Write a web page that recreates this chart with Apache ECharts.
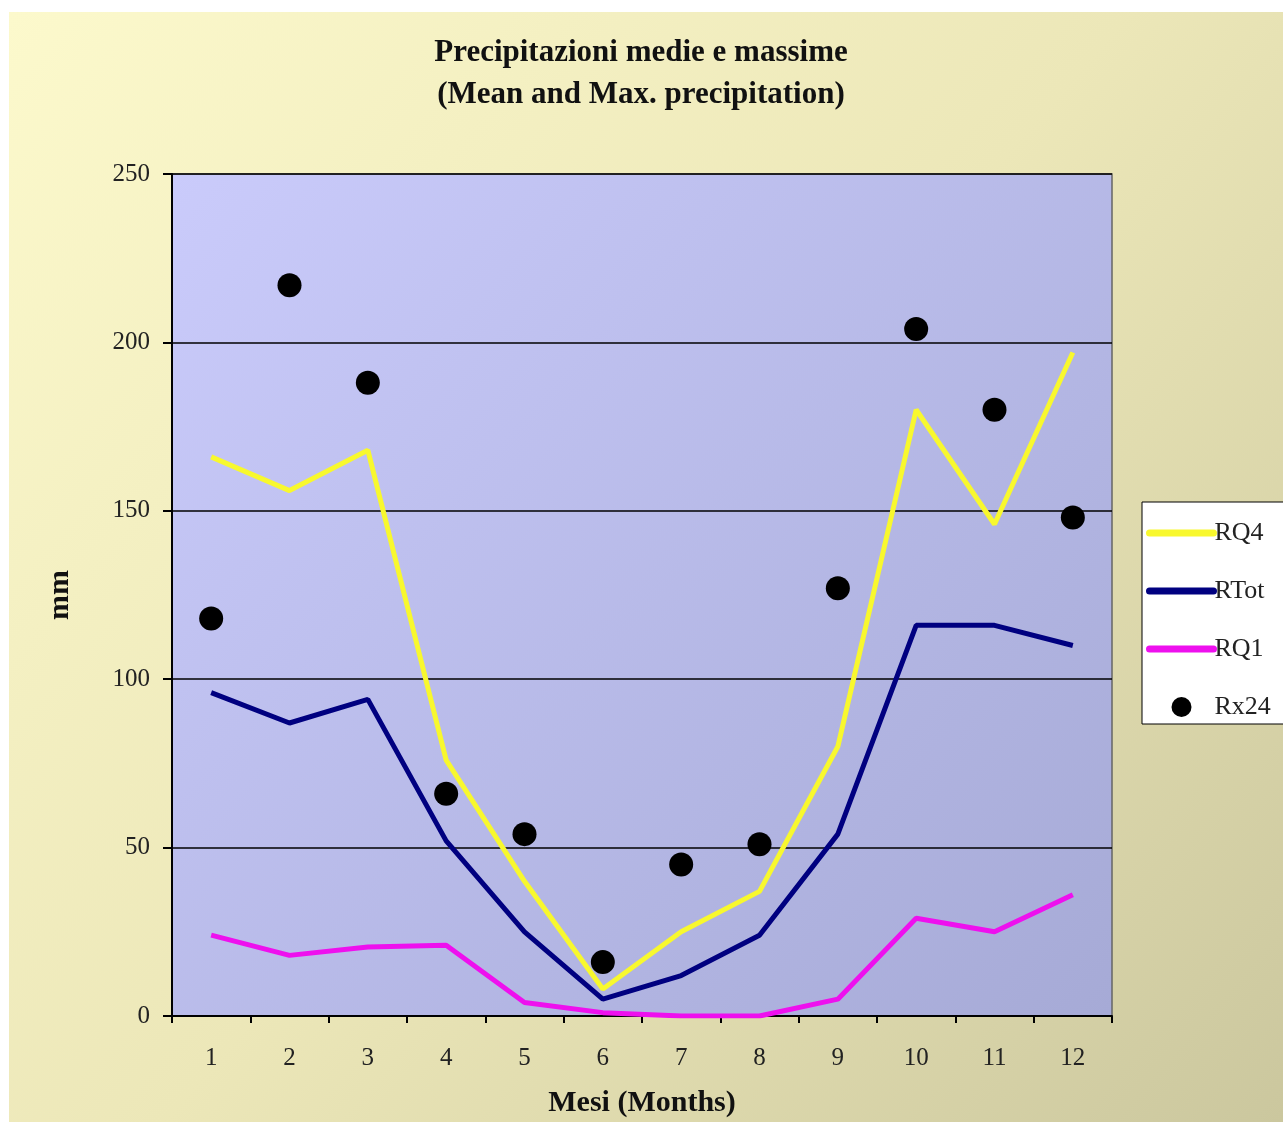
<!DOCTYPE html>
<html>
<head>
<meta charset="utf-8">
<script src="https://cdn.jsdelivr.net/npm/echarts@6/dist/echarts.min.js"></script>
<style>
html,body{margin:0;padding:0;background:#ffffff;overflow:hidden;}
#chart{position:absolute;left:9px;top:12px;width:1274px;height:1110px;}
</style>
</head>
<body>
<div id="chart"></div>
<script>
var months = ['1','2','3','4','5','6','7','8','9','10','11','12'];
var yTicks = [0, 50, 100, 150, 200, 250];
var RQ4  = [166, 156, 168, 76, 40, 8, 25, 37, 80, 180, 146, 197];
var RTot = [96, 87, 94, 52, 25, 5, 12, 24, 54, 116, 116, 110];
var RQ1  = [24, 18, 20.5, 21, 4, 1, 0, 0, 5, 29, 25, 36];
var Rx24 = [118, 217, 188, 66, 54, 16, 45, 51, 127, 204, 180, 148];

var serif = '"Liberation Serif", "DejaVu Serif", serif';
var chart = echarts.init(document.getElementById('chart'));
chart.setOption({
  animation: false,
  backgroundColor: {
    type: 'linear', x: 0, y: 0, x2: 1, y2: 1,
    colorStops: [
      {offset: 0, color: '#fcf9cc'},
      {offset: 0.5, color: '#ece7b8'},
      {offset: 1, color: '#cbc79e'}
    ]
  },
  title: {
    text: 'Precipitazioni medie e massime\n(Mean and Max. precipitation)',
    left: 627, top: 15, textAlign: 'center',
    textStyle: {fontFamily: serif, fontWeight: 'bold', fontSize: 31, lineHeight: 42, color: '#111'}
  },
  grid: {
    left: 163, top: 162, width: 940, height: 842,
    outerBoundsMode: 'none',
    containLabel: false,
    show: true,
    borderColor: '#666', borderWidth: 1.5,
    backgroundColor: {
      type: 'linear', x: 0, y: 0, x2: 1, y2: 1,
      colorStops: [
        {offset: 0, color: '#cacbfb'},
        {offset: 1, color: '#a6aad6'}
      ]
    }
  },
  legend: {
    orient: 'vertical',
    left: 1133, top: 490,
    backgroundColor: '#ffffff',
    borderColor: '#000', borderWidth: 1,
    padding: [18, 20, 4, 4],
    itemWidth: 64, itemHeight: 20, itemGap: 32,
    lineStyle: {width: 7, cap: 'round'},
    textStyle: {fontFamily: serif, fontSize: 26, color: '#222', padding: [0,0,0,-4]},
    data: [
      {name: 'RQ4', itemStyle: {opacity: 0}},
      {name: 'RTot', itemStyle: {opacity: 0}},
      {name: 'RQ1', itemStyle: {opacity: 0}},
      {name: 'Rx24'}
    ]
  },
  xAxis: {
    type: 'category', data: months, boundaryGap: true,
    name: 'Mesi (Months)', nameLocation: 'middle', nameGap: 72,
    nameTextStyle: {fontFamily: serif, fontWeight: 'bold', fontSize: 30, color: '#111'},
    axisLine: {lineStyle: {color: '#000', width: 2}},
    axisTick: {show: true, inside: false, length: 7, lineStyle: {color: '#000', width: 2}},
    axisLabel: {fontFamily: serif, fontSize: 25, color: '#222', margin: 30},
    splitLine: {show: false}
  },
  yAxis: {
    type: 'value', min: yTicks[0], max: yTicks[yTicks.length-1], interval: 50,
    name: 'mm', nameLocation: 'middle', nameGap: 97, nameRotate: 90,
    nameTextStyle: {fontFamily: serif, fontWeight: 'bold', fontSize: 30, color: '#111'},
    axisLine: {show: true, lineStyle: {color: '#000', width: 2}},
    axisTick: {show: true, inside: false, length: 9, lineStyle: {color: '#000', width: 2}},
    axisLabel: {fontFamily: serif, fontSize: 25, color: '#222', margin: 22},
    splitLine: {show: true, lineStyle: {color: '#000', width: 1.5}}
  },
  series: [
    {name: 'RQ4', type: 'line', data: RQ4, symbol: 'none', color: '#f8f82e',
     lineStyle: {color: '#f8f82e', width: 5}, z: 3},
    {name: 'RTot', type: 'line', data: RTot, symbol: 'none', color: '#000080',
     lineStyle: {color: '#000080', width: 5}, z: 2},
    {name: 'RQ1', type: 'line', data: RQ1, symbol: 'none', color: '#ee10ee',
     lineStyle: {color: '#ee10ee', width: 5}, z: 2},
    {name: 'Rx24', type: 'scatter', data: Rx24, symbol: 'circle', symbolSize: 24,
     itemStyle: {color: '#000', opacity: 1}, z: 4}
  ]
});
</script>
</body>
</html>
